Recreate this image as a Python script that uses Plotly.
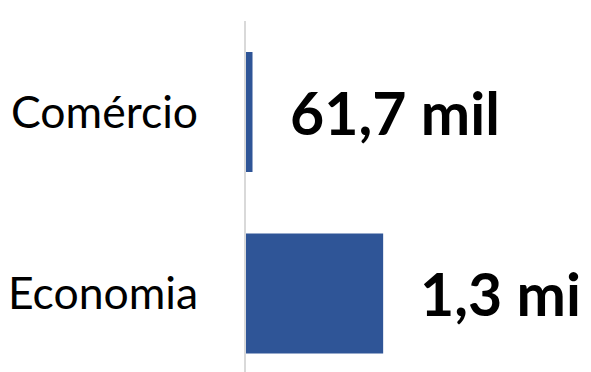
import plotly.graph_objects as go

categories = ["Comércio", "Economia"]
values = [61700, 1300000]
value_labels = ["61,7 mil", "1,3 mi"]

bar_color = "#2F5597"
font_family = "Lato, 'Open Sans', sans-serif"

fig = go.Figure()
fig.add_trace(go.Bar(
    x=values,
    y=categories,
    orientation="h",
    marker=dict(color=bar_color, line=dict(width=0)),
    hoverinfo="skip",
))

for cat, val, lab in zip(categories, values, value_labels):
    fig.add_annotation(
        x=val, y=cat, text=f"<b>{lab}</b>",
        xanchor="left", yanchor="middle", xshift=35, showarrow=False,
        font=dict(family=font_family, size=59, color="#000000"),
    )

fig.update_layout(
    width=591, height=372,
    margin=dict(l=246, r=0, t=21, b=0),
    paper_bgcolor="white", plot_bgcolor="white",
    bargap=0.339,
    showlegend=False,
    font=dict(family=font_family, color="#000000"),
)
fig.update_xaxes(
    range=[0, 3.27e6], showgrid=False, zeroline=False, showticklabels=False,
    showline=False, ticks="",
)
fig.update_yaxes(
    categoryorder="array", categoryarray=categories,
    range=[1.4325, -0.5014],
    showgrid=False, zeroline=False,
    showline=True, linecolor="#d9d9d9", linewidth=2,
    ticks="outside", ticklen=37, tickcolor="rgba(0,0,0,0)",
    tickfont=dict(family=font_family, size=44.5, color="#000000"),
)

fig.write_html("out.html")
